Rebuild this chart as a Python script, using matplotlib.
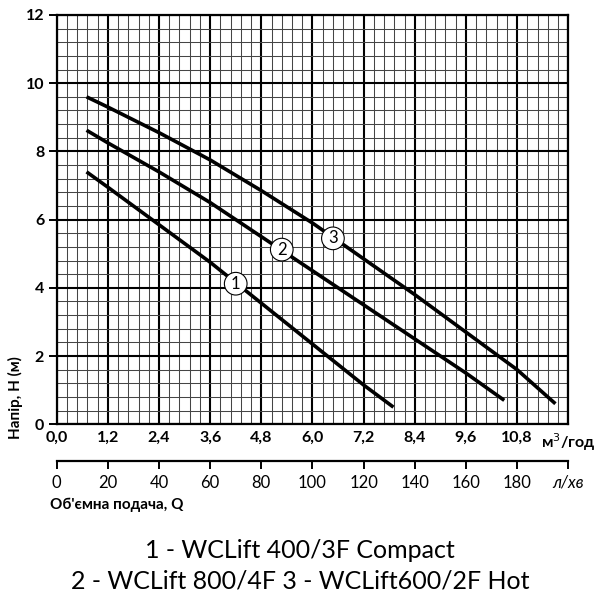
import matplotlib.pyplot as plt
from matplotlib.ticker import MultipleLocator

# flow Q (m3/h) and head H (m)
q1 = [0.7, 1.2, 2.4, 3.6, 4.8, 6.0, 7.2, 7.9]
h1 = [7.4, 6.95, 5.85, 4.75, 3.55, 2.35, 1.15, 0.5]
q2 = [0.7, 1.2, 2.4, 3.6, 4.8, 6.0, 7.2, 8.4, 9.6, 10.5]
h2 = [8.62, 8.25, 7.4, 6.5, 5.5, 4.5, 3.5, 2.5, 1.5, 0.7]
q3 = [0.7, 1.2, 2.4, 3.6, 4.8, 6.0, 7.2, 8.4, 9.6, 10.8, 11.7]
h3 = [9.6, 9.3, 8.55, 7.75, 6.85, 5.9, 4.85, 3.8, 2.7, 1.6, 0.6]

# curve markers (number, q, h)
marks = [("1", 4.2, 4.12), ("2", 5.28, 5.12), ("3", 6.48, 5.45)]

x_ticks = [0.0, 1.2, 2.4, 3.6, 4.8, 6.0, 7.2, 8.4, 9.6, 10.8, 12.0]
x_labels = ["0,0", "1,2", "2,4", "3,6", "4,8", "6,0", "7,2", "8,4", "9,6", "10,8", "м$^3$/год"]
lpm_ticks = [0, 20, 40, 60, 80, 100, 120, 140, 160, 180, 200]
lpm_labels = ["0", "20", "40", "60", "80", "100", "120", "140", "160", "180", "л/хв"]
y_ticks = [0, 2, 4, 6, 8, 10, 12]

legend_lines = ["1 - WCLift 400/3F Compact", "2 - WCLift 800/4F 3 - WCLift600/2F Hot"]

plt.rcParams['font.family'] = ['Lato', 'DejaVu Sans']

fig = plt.figure(figsize=(6, 6), dpi=100)
ax = fig.add_axes([0.0945, 0.293, 0.8525, 0.682])

for q, h in [(q1, h1), (q2, h2), (q3, h3)]:
    ax.plot(q, h, color='black', lw=2.6, solid_capstyle='butt', zorder=3)

for n, q, h in marks:
    ax.text(q, h, n, ha='center', va='center', fontsize=12, zorder=4,
            bbox=dict(boxstyle='circle,pad=0.2', fc='white', ec='black', lw=0.8))

ax.set_xlim(0, 12)
ax.set_ylim(0, 12)
ax.set_xticks(x_ticks)
ax.set_xticklabels(x_labels, fontweight='bold', fontsize=11.5)
ax.set_yticks(y_ticks)
ax.set_yticklabels([str(v) for v in y_ticks], fontweight='bold', fontsize=11.5)
ax.xaxis.set_minor_locator(MultipleLocator(0.24))
ax.yaxis.set_minor_locator(MultipleLocator(0.4))
ax.grid(which='major', color='black', lw=1.5)
ax.grid(which='minor', color='#454545', lw=0.75)
ax.set_axisbelow(True)
ax.tick_params(axis='x', which='major', length=0, pad=5)
ax.tick_params(axis='y', which='major', length=6, width=1.4, pad=3)
ax.tick_params(which='minor', length=0)
for s in ax.spines.values():
    s.set_linewidth(1.6)

# second flow scale in l/min
ax2 = fig.add_axes([0.0945, 0.232, 0.8525, 0.0001])
ax2.set_xlim(0, 200)
ax2.set_yticks([])
for s in ['top', 'left', 'right']:
    ax2.spines[s].set_visible(False)
ax2.spines['bottom'].set_linewidth(1.6)
ax2.set_xticks(lpm_ticks)
ax2.set_xticklabels(lpm_labels, fontsize=12)
ax2.get_xticklabels()[-1].set_fontstyle('italic')
ax2.tick_params(axis='x', length=6, width=1.4, pad=4)

fig.text(0.025, 0.338, "Напір, Н (м)", rotation=90, ha='center', va='center',
         fontweight='bold', fontsize=11)
fig.text(0.083, 0.158, "Об'ємна подача, Q", ha='left', va='center',
         fontweight='bold', fontsize=11)

fig.text(0.5, 0.082, legend_lines[0], ha='center', va='center', fontsize=18)
fig.text(0.5, 0.032, legend_lines[1], ha='center', va='center', fontsize=18)

plt.savefig('out.png', dpi=100)
